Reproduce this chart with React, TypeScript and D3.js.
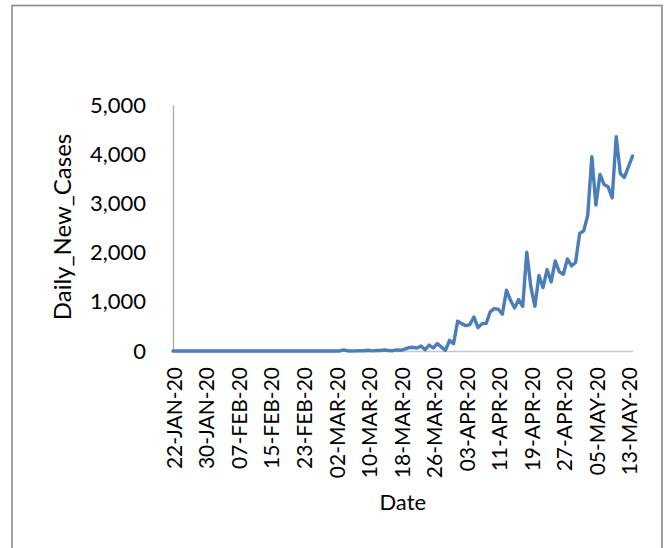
import React, {useEffect, useRef} from 'react';
import * as d3 from "d3";

// first day of the series, one value per day after that
const startDate = "2020-01-22"

const dailyNewCases = [
  0, 0, 0, 0, 0, 0, 0, 0,
  1, 0, 0, 1, 1,
  0, 0, 0, 0, 0, 0, 0, 0, 0, 0, 0, 0, 0, 0, 0, 0, 0, 0, 0, 0, 0, 0, 0, 0, 0, 0, 0,
  2, 1, 22, 2, 1, 3, 5, 6, 15, 2, 11, 9, 20, 11, 6, 23, 14, 38,
  68, 75, 61, 100, 27, 122, 61, 150, 80, 14, 217, 150,
  604, 556, 515, 536, 692, 475, 556, 556, 794, 862,
  848, 746, 1235, 1031, 875, 1045, 909, 2008, 1303, 909,
  1533, 1289, 1655, 1404, 1832, 1608, 1560, 1872, 1730, 1798,
  2388, 2442, 2761, 3948, 2965, 3589, 3385, 3338, 3114, 4355,
  3609, 3528, 3745, 3962
]

const xTickLabels = [
  "22-JAN-20", "30-JAN-20", "07-FEB-20", "15-FEB-20", "23-FEB-20",
  "02-MAR-20", "10-MAR-20", "18-MAR-20", "26-MAR-20", "03-APR-20",
  "11-APR-20", "19-APR-20", "27-APR-20", "05-MAY-20", "13-MAY-20"
]

const yTicks = [0, 1000, 2000, 3000, 4000, 5000]

const FONT = "Lato, 'Open Sans', sans-serif"

const App = () => {

  const chartRef = useRef<SVGSVGElement>(null)

  useEffect(() => {
    const width = 664
    const height = 548
    const left = 173, right = 632.5, top = 105, bottom = 351

    const parseIso = d3.timeParse("%Y-%m-%d")
    const parseLabel = d3.timeParse("%d-%b-%y")
    const start = parseIso(startDate) as Date
    const data = dailyNewCases.map((v, i) => ({date: d3.timeDay.offset(start, i), value: v}))

    const svg = d3.select(chartRef.current)
      .attr("width", width)
      .attr("height", height)

    svg.selectAll("*").remove()

    svg.append("rect")
      .attr("width", width)
      .attr("height", height)
      .attr("fill", "white")

    // outer frame (bottom edge runs off the picture)
    svg.append("rect")
      .attr("x", 12)
      .attr("y", 5.5)
      .attr("width", 650)
      .attr("height", 600)
      .attr("fill", "none")
      .attr("stroke", "#8c8c8c")
      .attr("stroke-width", 1.6)

    const xScale = d3.scaleTime()
      .domain([data[0].date, data[data.length - 1].date])
      .range([left, right])

    const yScale = d3.scaleLinear()
      .domain([0, 5000])
      .range([bottom, top])

    // y axis
    const yAxis = svg.append("g")
      .attr("transform", `translate(${left},0)`)
      .call(d3.axisLeft(yScale).tickValues(yTicks).tickSize(0).tickPadding(27).tickFormat(d3.format(",")))
    yAxis.select(".domain").attr("stroke", "#a6a6a6").attr("stroke-width", 1.3)
    yAxis.selectAll("text")
      .attr("font-family", FONT)
      .attr("font-size", 22)
      .attr("fill", "#000")

    // x axis
    const xAxis = svg.append("g")
      .attr("transform", `translate(0,${bottom})`)
      .call(d3.axisBottom(xScale)
        .tickValues(xTickLabels.map(s => parseLabel(s) as Date))
        .tickSize(0)
        .tickFormat((d, i) => xTickLabels[i]))
    xAxis.select(".domain").attr("stroke", "#c8c8c8").attr("stroke-width", 1.3)
    xAxis.selectAll("text")
      .attr("font-family", FONT)
      .attr("font-size", 21)
      .attr("fill", "#000")
      .attr("text-anchor", "end")
      .attr("transform", "rotate(-90)")
      .attr("x", -16)
      .attr("y", 1)
      .attr("dy", "0.35em")

    const line = d3.line<{date: Date, value: number}>()
      .x(d => xScale(d.date))
      .y(d => yScale(d.value))

    svg.append("path")
      .datum(data)
      .attr("fill", "none")
      .attr("stroke", "#4a7ebb")
      .attr("stroke-width", 3.4)
      .attr("stroke-linejoin", "round")
      .attr("stroke-linecap", "round")
      .attr("d", line)

    // axis titles
    svg.append("text")
      .attr("transform", `translate(71,${(top + bottom) / 2 - 1}) rotate(-90)`)
      .attr("text-anchor", "middle")
      .attr("font-family", FONT)
      .attr("font-size", 24)
      .text("Daily_New_Cases")

    svg.append("text")
      .attr("x", (left + right) / 2)
      .attr("y", 510)
      .attr("text-anchor", "middle")
      .attr("font-family", FONT)
      .attr("font-size", 22)
      .text("Date")

  }, []);

  return (
    <div style={{position: "absolute", left: 0, top: 0}}>
      <svg ref={chartRef} style={{display: "block"}}/>
    </div>
  );
};

export default App;
